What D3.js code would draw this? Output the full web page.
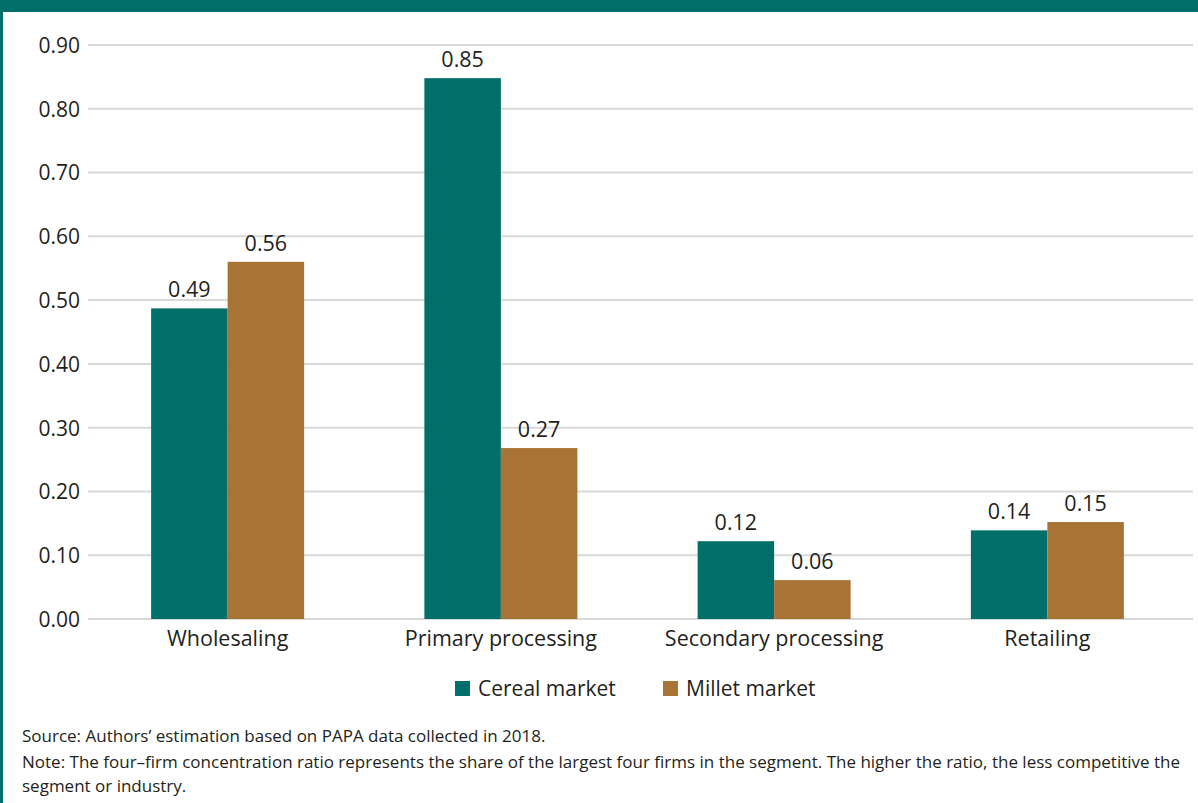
<!DOCTYPE html>
<html>
<head>
<meta charset="utf-8">
<script src="https://cdn.jsdelivr.net/npm/d3@7"></script>
<style>
  html, body { margin: 0; padding: 0; background: #fff; }
  svg { display: block; }
  text { font-family: "Open Sans", "Noto Sans", sans-serif; fill: #231f20; }
</style>
</head>
<body>
<svg id="chart" width="1198" height="803"></svg>
<script>
const categories = ["Wholesaling", "Primary processing", "Secondary processing", "Retailing"];
const seriesNames = ["Cereal market", "Millet market"];
const cerealValues = [0.487, 0.848, 0.122, 0.139];
const milletValues = [0.56, 0.268, 0.061, 0.152];
const yTicks = [0, 0.1, 0.2, 0.3, 0.4, 0.5, 0.6, 0.7, 0.8, 0.9];
const sourceText = "Source: Authors\u2019 estimation based on PAPA data collected in 2018.";
const noteLines = [
  "Note: The four\u2013firm concentration ratio represents the share of the largest four firms in the segment. The higher the ratio, the less competitive the",
  "segment or industry."
];

const colors = ["#006e69", "#a87436"];
const svg = d3.select("#chart");

// frame
svg.append("rect").attr("x", 0).attr("y", 0).attr("width", 1198).attr("height", 12).attr("fill", "#006e69");
svg.append("rect").attr("x", 0).attr("y", 0).attr("width", 3).attr("height", 803).attr("fill", "#006e69");

const y = d3.scaleLinear().domain([0, 0.9]).range([619, 45]);
const x0 = d3.scaleBand().domain(categories).range([91, 1184]).paddingInner(0).paddingOuter(0);
const x1 = d3.scaleBand().domain(seriesNames).range([0, 153]);
const groupOffset = (x0.bandwidth() - 153) / 2;

// gridlines
svg.append("g").selectAll("line").data(yTicks).join("line")
  .attr("x1", 88).attr("x2", 1193)
  .attr("y1", d => y(d)).attr("y2", d => y(d))
  .attr("stroke", "#d9d9d9").attr("stroke-width", 2);

// y axis labels
const yAxis = d3.axisLeft(y).tickValues(yTicks).tickFormat(d3.format(".2f")).tickSize(0).tickPadding(0);
const gy = svg.append("g").attr("transform", "translate(80,0)").call(yAxis);
gy.select(".domain").remove();
gy.selectAll("text").style("font-size", "21px").style("font-family", null).attr("fill", "#231f20").attr("dy", "0.35em");

// bars
const data = categories.map((c, i) => ({ cat: c, vals: [cerealValues[i], milletValues[i]] }));
const groups = svg.append("g").selectAll("g").data(data).join("g")
  .attr("transform", d => `translate(${x0(d.cat) + groupOffset},0)`);

groups.selectAll("rect").data(d => d.vals.map((v, j) => ({ name: seriesNames[j], v, j }))).join("rect")
  .attr("x", d => x1(d.name))
  .attr("width", x1.bandwidth())
  .attr("y", d => y(d.v))
  .attr("height", d => y(0) - y(d.v))
  .attr("fill", d => colors[d.j]);

groups.selectAll("text.val").data(d => d.vals.map((v, j) => ({ name: seriesNames[j], v, j }))).join("text")
  .attr("class", "val")
  .attr("x", d => x1(d.name) + x1.bandwidth() / 2)
  .attr("y", d => y(d.v) - 11)
  .attr("text-anchor", "middle")
  .style("font-size", "21.5px")
  .text(d => d3.format(".2f")(d.v));

// x axis labels
const xAxis = d3.axisBottom(x0).tickSize(0).tickPadding(0);
const gx = svg.append("g").attr("transform", "translate(0,619)").call(xAxis);
gx.select(".domain").remove();
gx.selectAll("text").style("font-size", "21.5px").style("font-family", null).attr("fill", "#231f20").attr("dy", "1.25em");

// legend
const legendX = [455, 663];
const lg = svg.append("g").selectAll("g").data(seriesNames).join("g")
  .attr("transform", (d, i) => `translate(${legendX[i]},681)`);
lg.append("rect").attr("width", 15).attr("height", 15).attr("fill", (d, i) => colors[i]);
lg.append("text").attr("x", 23).attr("y", 8).attr("dy", "0.35em").style("font-size", "21px").text(d => d);

// source and note
svg.append("text").attr("x", 22).attr("y", 742).style("font-size", "17px").text(sourceText);
svg.append("g").selectAll("text").data(noteLines).join("text")
  .attr("x", 22).attr("y", (d, i) => 768 + i * 24)
  .style("font-size", "17px").text(d => d);
</script>
</body>
</html>
